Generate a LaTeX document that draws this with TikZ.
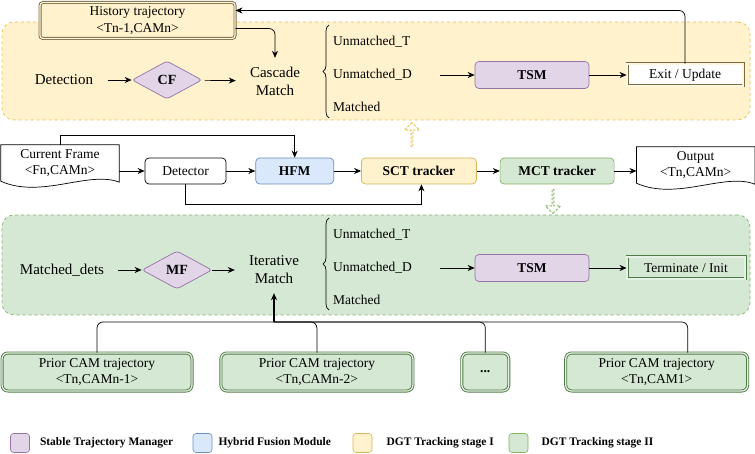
\documentclass[tikz,border=0pt]{standalone}
\usepackage{fontspec}
\setmainfont{Liberation Serif}
\usepackage{tikz}
\usetikzlibrary{positioning, shapes.geometric, shapes.arrows, arrows.meta, decorations.pathreplacing}

\definecolor{yfill}{HTML}{FFF2CC}
\definecolor{yline}{HTML}{D6B656}
\definecolor{ydash}{HTML}{EDBE4F}
\definecolor{gfill}{HTML}{D5E8D4}
\definecolor{gline}{HTML}{82B366}
\definecolor{bfill}{HTML}{DAE8FC}
\definecolor{bline}{HTML}{6C8EBF}
\definecolor{pfill}{HTML}{E1D5E7}
\definecolor{pline}{HTML}{9673A6}
\definecolor{hline}{HTML}{7A6A3E}
\definecolor{tline}{HTML}{4E7A45}

\newcommand{\stagetxt}{\fontsize{15}{18}\selectfont}
\newcommand{\boxtxt}{\fontsize{13.5}{16.5}\selectfont}
\newcommand{\legendtxt}{\fontsize{11.5}{13}\selectfont\bfseries}

\begin{document}
\begin{tikzpicture}[
    x=1pt, y=-1pt,
    >={Stealth[length=7pt, width=6pt]},
    every node/.style={font=\boxtxt},
    conn/.style={line width=0.7pt},
    stagebox/.style={rectangle, rounded corners=12pt, dashed, line width=0.7pt},
    modbox/.style={rectangle, rounded corners=4pt, draw, line width=0.7pt, align=center},
    dblbox/.style={rectangle, draw, double, double distance=1.2pt, line width=0.9pt, align=center},
    decision/.style={diamond, aspect=1.85, draw=pline, fill=pfill, line width=0.7pt, minimum width=70, minimum height=38, inner sep=0pt, rounded corners=3pt, font=\fontsize{14}{16}\selectfont\bfseries},
    plain/.style={inner sep=0pt, align=center, font=\stagetxt},
    branch/.style={anchor=west, text width=107pt, inner xsep=0pt, align=left},
    docnode/.style={inner sep=0pt, minimum width=118, minimum height=36, align=center},
    hollowarrow/.style={single arrow, draw, dashed, dash pattern=on 2.5pt off 1.5pt, fill=white, line width=0.9pt, minimum height=24, minimum width=15, single arrow head extend=3.5pt, inner sep=0pt},
    legendsq/.style={rectangle, rounded corners=3pt, draw, line width=0.6pt, minimum size=19},
    legendlbl/.style={anchor=west, inner sep=0pt, font=\legendtxt}
]
\useasboundingbox (0,0) rectangle (755,454);

% Stage backgrounds
\node[stagebox, draw=ydash, fill=yfill, minimum width=748, minimum height=98] (stageI) at (376,71) {};
\node[stagebox, draw=gline, fill=gfill, minimum width=748, minimum height=100] (stageII) at (376,265) {};

% Stage I
\node[dblbox, draw=hline, double=yfill!60, fill=yfill, rounded corners=3pt, minimum width=195, minimum height=36] (hist) at (137.5,20.5) {History trajectory\\<Tn-1,CAMn>};
\node[plain, minimum width=88] (detect) at (64,80) {Detection};
\node[decision] (cf) at (167,80) {CF};
\node[plain, minimum width=78, minimum height=46] (cascade) at (275,81) {Cascade\\Match};
\draw[conn, decorate, decoration={brace, amplitude=6pt}] (329,118) -- (329,25);
\node[branch] (ut1) at (333,42) {Unmatched\_T};
\node[branch] (ud1) at (333,75) {Unmatched\_D};
\node[branch] (mt1) at (333,107) {Matched};
\node[modbox, draw=pline, fill=pfill, minimum width=114, minimum height=27] (tsm1) at (532,75) {\textbf{TSM}};
\node[dblbox, draw=hline, double=yfill!60, fill=white, minimum width=116, minimum height=22] (exit) at (685,75) {Exit / Update};

\draw[conn, ->] (detect) -- (cf);
\draw[conn, ->, shorten <=3pt] (cf) -- (cascade);
\draw[conn, ->] (ud1) -- (tsm1);
\draw[conn, ->] (tsm1) -- (exit);
\draw[conn, ->, rounded corners=6pt] ([yshift=-8pt]hist.east) -| (cascade.north);
\draw[conn, ->, rounded corners=6pt] (exit.north) |- ([yshift=10pt]hist.east);

% Main pipeline
\node[docnode] (cur) at (60,163) {Current Frame\\<Fn,CAMn>};
\draw[conn] (cur.north west) -- (cur.north east) -- ([yshift=-1pt]cur.south east) .. controls +(-30,-12) and +(40,18) .. (cur.south west) -- cycle;
\node[modbox, fill=white, minimum width=81, minimum height=26] (det) at (185.5,171) {Detector};
\node[modbox, draw=bline, fill=bfill, minimum width=78, minimum height=26, right=29pt of det] (hfm) {\textbf{HFM}};
\node[modbox, draw=yline, fill=yfill, minimum width=115, minimum height=26, right=27pt of hfm] (sct) {\textbf{SCT tracker}};
\node[modbox, draw=gline, fill=gfill, minimum width=114, minimum height=26, right=23pt of sct] (mct) {\textbf{MCT tracker}};
\node[docnode, right=22pt of mct, yshift=6pt] (out) {Output\\<Tn,CAMn>};
\draw[conn] (out.north west) -- (out.north east) -- ([yshift=-1pt]out.south east) .. controls +(-30,-12) and +(40,18) .. (out.south west) -- cycle;

\draw[conn, ->] (cur.east |- det.west) -- (det.west);
\draw[conn, ->] (det) -- (hfm);
\draw[conn, ->] (hfm) -- (sct);
\draw[conn, ->] (sct) -- (mct);
\draw[conn, ->] (mct.east) -- (mct.east -| out.west);
\draw[conn, ->] (cur.north) -- ++(0,-9) -| (hfm.north);
\draw[conn, ->] (det.south) -- ++(0,20) -| ([xshift=2.5pt]sct.south);

\node[hollowarrow, draw=ydash, rotate=90] (up) at (412,135) {};
\node[hollowarrow, draw=gline, rotate=-90] (down) at (553,201) {};

% Stage II
\node[plain, minimum width=112] (mdets) at (62,270) {Matched\_dets};
\node[decision] (mf) at (177,270) {MF};
\node[plain, minimum width=78, minimum height=46] (iter) at (274,270) {Iterative\\Match};
\draw[conn, decorate, decoration={brace, amplitude=6pt}] (329,310) -- (329,218);
\node[branch] (ut2) at (333,235) {Unmatched\_T};
\node[branch] (ud2) at (333,268) {Unmatched\_D};
\node[branch] (mt2) at (333,300) {Matched};
\node[modbox, draw=pline, fill=pfill, minimum width=114, minimum height=27] (tsm2) at (532,268) {\textbf{TSM}};
\node[dblbox, draw=tline, double=gfill!60, fill=gfill, minimum width=118, minimum height=22] (term) at (686,268) {Terminate / Init};

\draw[conn, ->] (mdets) -- (mf);
\draw[conn, ->] (mf) -- (iter);
\draw[conn, ->] (ud2) -- (tsm2);
\draw[conn, ->] (tsm2) -- (term);

% Prior camera trajectories
\node[dblbox, draw=tline, double=gfill!60, fill=gfill, rounded corners=6pt, minimum width=190, minimum height=38] (p1) at (97,372) {Prior CAM trajectory\\<Tn,CAMn-1>};
\node[dblbox, draw=tline, double=gfill!60, fill=gfill, rounded corners=6pt, minimum width=192, minimum height=38, right=28pt of p1] (p2) {Prior CAM trajectory\\<Tn,CAMn-2>};
\node[dblbox, draw=tline, double=gfill!60, fill=gfill, rounded corners=6pt, minimum width=47, minimum height=38, right=48pt of p2] (dots) {\textbf{...}};
\node[dblbox, draw=tline, double=gfill!60, fill=gfill, rounded corners=6pt, minimum width=182, minimum height=38, right=56pt of dots] (p4) {Prior CAM trajectory\\<Tn,CAM1>};

\coordinate (merge) at (274,322);
\draw[conn, rounded corners=6pt] (p1.north) |- (merge);
\draw[conn, rounded corners=6pt] (p2.north) |- (merge);
\draw[conn, rounded corners=6pt] (dots.north) |- (merge);
\draw[conn, rounded corners=6pt] ([xshift=31pt]p4.north) |- (merge);
\draw[line width=1.3pt, ->] (merge) -- (iter.south);

% Legend
\node[legendsq, draw=pline, fill=pfill] (lgtsm) at (20,443) {};
\node[legendlbl, right=10pt of lgtsm] (lbtsm) {Stable Trajectory Manager};
\node[legendsq, draw=bline, fill=bfill] (lghfm) at (202.5,443) {};
\node[legendlbl, right=6pt of lghfm] (lbhfm) {Hybrid Fusion Module};
\node[legendsq, draw=yline, fill=yfill] (lgone) at (362.5,443) {};
\node[legendlbl, right=14pt of lgone] (lbone) {DGT Tracking stage I};
\node[legendsq, draw=gline, fill=gfill] (lgtwo) at (518.5,443) {};
\node[legendlbl, right=13pt of lgtwo] (lbtwo) {DGT Tracking stage II};

\end{tikzpicture}
\end{document}
